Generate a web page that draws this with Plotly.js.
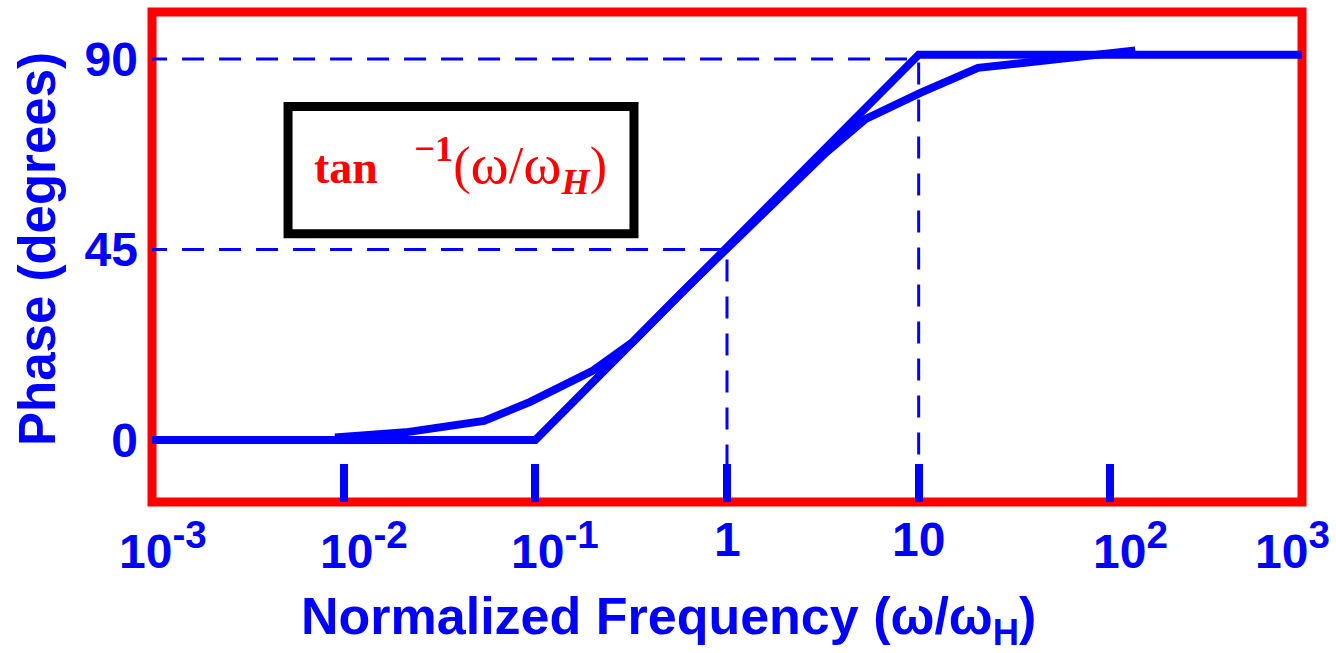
<!DOCTYPE html>
<html>
<head>
<meta charset="utf-8">
<script src="https://cdn.plot.ly/plotly-3.0.1.min.js"></script>
<style>html,body{margin:0;padding:0;background:#fff;}#chart{width:1336px;height:653px;}</style>
</head>
<body>
<div id="chart"></div>
<script>
// Asymptotic (straight-line) approximation
const asymFreq = [0.0009, 0.1, 10, 1000];
const asymPhase = [0, 0, 91, 91];
const exactFreq = [0.009, 0.021, 0.054, 0.094, 0.2, 0.32, 0.57, 1.69, 3.27, 5.27, 10.2, 20.4, 135];
const exactPhase = [0.6, 1.8, 4.5, 9.0, 16.4, 23, 34.5, 55.5, 67.8, 75.8, 82, 87.9, 92];
// Dashed guide lines
const guide45Freq = [0.00092, 1, 1];
const guide45Phase = [45, 45, -15];
const guide90Freq = [0.00092, 10, 10];
const guide90Phase = [90, 90, -15];
// Axis ticks and labels
const xTickFreq = [0.01, 0.1, 1, 10, 100];
const xLabelExp = [-3, -2, -1, 0, 1, 2, 3];
const xLabelText = ['10<sup><span style="font-size:115%">-3</span></sup>', '10<sup><span style="font-size:115%">-2</span></sup>',
                    '10<sup><span style="font-size:115%">-1</span></sup>', '1', '10',
                    '10<sup><span style="font-size:115%">2</span></sup>', '10<sup><span style="font-size:115%">3</span></sup>'];
const yTickVals = [0, 45, 90];
const yTickText = ['0', '45', '90'];
const xTitle = 'Normalized Frequency (ω/ω<sub>H</sub>)';
const yTitle = 'Phase (degrees)';
const boxLabel = '<span style="font-size:46px"><b>tan</b></span>\u00a0\u00a0\u2009<sup><b>\u22121</b></sup>(<span style="font-size:58px">ω</span>/<span style="font-size:58px">ω</span><sub><b><i>H</i></b></sub>)';

const BLUE = '#0000ff';
const tickFont = {family: 'Liberation Sans, Arial, sans-serif', size: 48, color: BLUE, weight: 'bold'};

const traces = [
  {x: guide90Freq, y: guide90Phase, mode: 'lines', line: {color: BLUE, width: 3, dash: '22px,15px'}, hoverinfo: 'skip'},
  {x: guide45Freq, y: guide45Phase, mode: 'lines', line: {color: BLUE, width: 3, dash: '22px,15px'}, hoverinfo: 'skip'},
  {x: asymFreq, y: asymPhase, mode: 'lines', line: {color: BLUE, width: 8}},
  {x: exactFreq, y: exactPhase, mode: 'lines', line: {color: BLUE, width: 8}}
];

const annotations = xLabelText.map((t, i) => {
  const hasSup = t.indexOf('<sup>') >= 0;
  let xanchor = 'center', xshift = hasSup ? 20 : 0;
  if (i === 0) { xanchor = 'left'; xshift = -35; }
  if (i === xLabelText.length - 1) { xanchor = 'right'; xshift = 30; }
  return {x: xLabelExp[i], xref: 'x', y: 0, yref: 'paper', yanchor: 'top', yshift: -9,
          xanchor: xanchor, xshift: xshift, text: t, showarrow: false, font: tickFont};
});
annotations.push({x: 0.4487, xref: 'paper', y: 0, yref: 'paper', yanchor: 'middle', yshift: -118,
  xanchor: 'center', text: xTitle, showarrow: false,
  font: {family: 'Liberation Sans, Arial, sans-serif', size: 52, color: BLUE, weight: 'bold'}});
annotations.push({x: -0.1, xref: 'paper', y: 0.5, yref: 'paper', yanchor: 'middle', xanchor: 'center', yshift: 8,
  textangle: -90, text: yTitle, showarrow: false,
  font: {family: 'Liberation Sans Narrow, Liberation Sans, Arial, sans-serif', size: 51, color: BLUE, weight: 'bold'}});
annotations.push({x: 0.2683, xref: 'paper', y: 0.6755, yref: 'paper', xanchor: 'center', yanchor: 'middle', yshift: 6,
  text: boxLabel, showarrow: false,
  font: {family: 'Liberation Serif, Times New Roman, serif', size: 52, color: '#ff0000'}});

const layout = {
  width: 1336, height: 653,
  margin: {l: 152, r: 34, t: 12, b: 151},
  paper_bgcolor: '#ffffff', plot_bgcolor: '#ffffff',
  showlegend: false,
  xaxis: {type: 'log', range: [-3, 3], tickvals: xTickFreq, ticks: 'inside', ticklen: 38, tickwidth: 8,
          tickcolor: BLUE, showticklabels: false, showgrid: false, zeroline: false, showline: false, fixedrange: true},
  yaxis: {range: [-14.65, 101.1], tickvals: yTickVals, ticktext: yTickText, ticks: '', tickfont: tickFont,
          ticklabelstandoff: 13, showgrid: false, zeroline: false, showline: false, fixedrange: true},
  shapes: [
    {type: 'rect', xref: 'paper', yref: 'paper', x0: 0, x1: 1, y0: 0, y1: 1, line: {color: '#ff0000', width: 9}, layer: 'below'},
    {type: 'rect', xref: 'paper', yref: 'paper', x0: 0.1183, x1: 0.4191, y0: 0.5475, y1: 0.807, line: {color: '#000000', width: 9}, layer: 'above'}
  ],
  annotations: annotations
};

Plotly.newPlot('chart', traces, layout, {displayModeBar: false, staticPlot: true});
</script>
</body>
</html>
